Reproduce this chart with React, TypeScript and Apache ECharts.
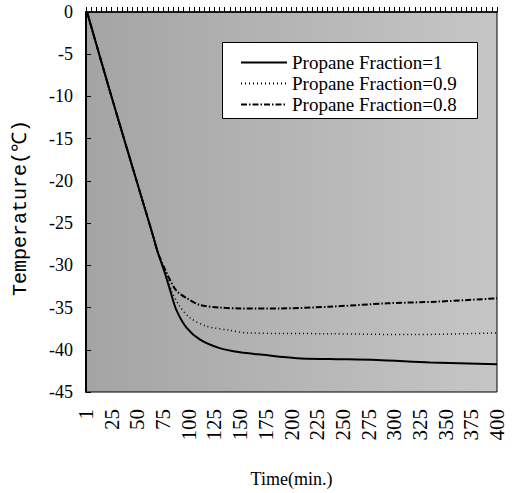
import React, { useEffect, useRef } from "react";
import * as echarts from "echarts";

const seriesNames = ["Propane Fraction=1", "Propane Fraction=0.9", "Propane Fraction=0.8"];

const timesF10 = [1, 25, 50, 65, 70, 77, 82, 88, 98, 111, 130, 150, 172, 205, 237, 283, 335, 400];
const tempsF10 = [0, -10.1, -20.3, -26.4, -28.5, -31.0, -33.0, -35.3, -37.4, -38.8, -39.8, -40.3, -40.6, -41.0, -41.1, -41.2, -41.5, -41.7];

const timesF09 = [1, 25, 50, 65, 70, 77, 84, 91, 101, 117, 140, 157, 237, 320, 400];
const tempsF09 = [0, -10.1, -20.3, -26.4, -28.5, -30.8, -33.2, -34.8, -36.2, -37.2, -37.7, -38.0, -38.1, -38.2, -38.0];

const timesF08 = [1, 25, 50, 65, 70, 77, 82, 88, 98, 111, 130, 150, 189, 237, 293, 342, 400];
const tempsF08 = [0, -10.1, -20.3, -26.4, -28.5, -30.5, -31.8, -33.0, -33.9, -34.7, -35.0, -35.1, -35.1, -34.9, -34.5, -34.3, -33.9];

const xTickStep = 25;
const yMin = -45;
const yMax = 0;
const yStep = 5;

const pair = (t: number[], v: number[]) => t.map((x, i) => [x, v[i]]);

const FONT = "Liberation Serif";

export default function App() {
  const ref = useRef<HTMLDivElement>(null);
  useEffect(() => {
    if (!ref.current) return;
    const chart = echarts.init(ref.current, null, { renderer: "svg" });
    const lineStyles = [
      { color: "#000", width: 2, type: "solid" as any },
      { color: "#000", width: 1.5, type: [1, 3] as any },
      { color: "#000", width: 2, type: [6, 2, 1.5, 2] as any },
    ];
    const datas = [pair(timesF10, tempsF10), pair(timesF09, tempsF09), pair(timesF08, tempsF08)];
    chart.setOption({
      animation: false,
      textStyle: { fontFamily: FONT },
      grid: {
        left: 86,
        top: 12,
        right: 18,
        bottom: 93,
        show: true,
        borderColor: "#000",
        borderWidth: 1,
        backgroundColor: {
          type: "linear",
          x: 0,
          y: 0,
          x2: 1,
          y2: 0,
          colorStops: [
            { offset: 0, color: "#a4a4a4" },
            { offset: 1, color: "#c6c6c6" },
          ],
        },
      },
      graphic: [
        {
          type: "rect",
          left: 222,
          top: 42,
          shape: { width: 255, height: 76 },
          style: { fill: "#fff", stroke: "#000", lineWidth: 1 },
          z: 5,
        },
      ],
      legend: {
        orient: "vertical",
        left: 222,
        top: 42,
        padding: [11, 10, 10, 18],
        itemGap: 2,
        itemWidth: 46,
        itemHeight: 14,
        z: 10,
        data: seriesNames,
        itemStyle: { opacity: 0 },
        textStyle: { fontFamily: FONT, fontSize: 19, lineHeight: 18, color: "#000" },
      },
      xAxis: {
        type: "value",
        min: 0,
        max: 400,
        interval: xTickStep,
        name: "Time(min.)",
        nameLocation: "middle",
        nameGap: 78,
        nameTextStyle: { fontFamily: FONT, fontSize: 18, color: "#000" },
        axisLine: { show: true, lineStyle: { color: "#000", width: 1.5 } },
        axisTick: { show: true, inside: true, length: 5, lineStyle: { color: "#000" } },
        minorTick: { show: true, splitNumber: 5, length: 5, lineStyle: { color: "#000" } },
        splitLine: { show: false },
        axisLabel: {
          rotate: 90,
          fontFamily: FONT,
          fontSize: 21,
          color: "#000",
          margin: 17,
          formatter: (v: number) => (v === 0 ? "1" : String(v)),
        },
      },
      yAxis: {
        type: "value",
        min: yMin,
        max: yMax,
        interval: yStep,
        name: "Temperature(℃)",
        nameLocation: "middle",
        nameGap: 56,
        nameRotate: 90,
        nameTextStyle: { fontFamily: "Liberation Mono", fontSize: 20, color: "#000", padding: [0, 12, 0, 0] },
        axisLine: { show: true, lineStyle: { color: "#000", width: 2 } },
        axisTick: { show: true, inside: true, length: 5, lineStyle: { color: "#000" } },
        splitLine: { show: false },
        axisLabel: { fontFamily: FONT, fontSize: 18, color: "#000", margin: 13 },
      },
      series: seriesNames.map((n, i) => ({
        name: n,
        type: "line",
        data: datas[i],
        symbol: "none",
        smooth: 0.3,
        lineStyle: lineStyles[i],
        itemStyle: { color: "#000" },
        z: 3,
      })),
    });
    return () => chart.dispose();
  }, []);
  return <div ref={ref} style={{ width: 515, height: 493, position: "absolute", left: 0, top: 0 }} />;
}
